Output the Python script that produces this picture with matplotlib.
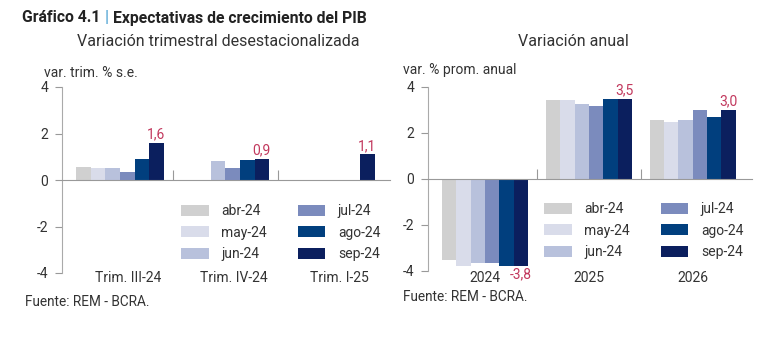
import matplotlib.pyplot as plt
import numpy as np

plt.rcParams["font.family"] = ["Roboto", "DejaVu Sans"]

# REM survey months (one bar per survey)
surveys = ["abr-24", "may-24", "jun-24", "jul-24", "ago-24", "sep-24"]
colors = ["#d0d0d0", "#d9dcea", "#b8c1dc", "#7b8bbd", "#013f7e", "#0b1f5e"]

# quarterly s.a. growth expectations, rows = survey month
quarters = ["Trim. III-24", "Trim. IV-24", "Trim. I-25"]
q_vals = np.array([
    [0.54, np.nan, np.nan],
    [0.51, np.nan, np.nan],
    [0.50, 0.80, np.nan],
    [0.35, 0.50, np.nan],
    [0.89, 0.85, np.nan],
    [1.6, 0.9, 1.1],
])

# annual average growth expectations
years = ["2024", "2025", "2026"]
y_vals = np.array([
    [-3.5, 3.42, 2.55],
    [-3.8, 3.42, 2.48],
    [-3.67, 3.27, 2.55],
    [-3.67, 3.18, 3.0],
    [-3.8, 3.5, 2.68],
    [-3.8, 3.5, 3.0],
])

W, H = 780, 342
fig = plt.figure(figsize=(W / 100, H / 100), dpi=100)


def px_box(x0, y_top, x1, y_bot):
    return [x0 / W, 1 - y_bot / H, (x1 - x0) / W, (y_bot - y_top) / H]


ax1 = fig.add_axes(px_box(62, 87, 390, 273))
ax2 = fig.add_axes(px_box(428, 87, 752, 271))

label_col = "#c2385d"
txt_col = "#333333"
bw = 0.138


def draw_panel(ax, vals, cats, lab_dx, lab_y, xmax):
    n = vals.shape[0]
    x = np.arange(len(cats))
    handles = []
    for i in range(n):
        off = (i - (n - 1) / 2) * bw
        h = ax.bar(x + off, vals[i], width=bw, color=colors[i], label=surveys[i],
                   zorder=2)
        handles.append(h)
    # value labels on the latest survey
    last = vals[-1]
    off = (n - 1) / 2 * bw
    for xi, v in zip(x, last):
        if np.isnan(v):
            continue
        s = f"{v:.1f}".replace(".", ",")
        if v >= 0:
            ax.annotate(s, (xi + off, v), xytext=(0, 1), textcoords="offset points",
                        ha="center", va="bottom", color=label_col, fontsize=10)
        else:
            ax.annotate(s, (xi + off, v), xytext=(0, -1), textcoords="offset points",
                        ha="center", va="top", color=label_col, fontsize=10)
    for xi, c in zip(x, cats):
        ax.text(xi + lab_dx, lab_y, c, ha="center", va="center", fontsize=10,
                color=txt_col)

    ax.set_xlim(-0.55, xmax)
    ax.set_ylim(-4, 4)
    ax.set_yticks([-4, -2, 0, 2, 4])
    ax.set_yticklabels(["-4", "-2", "0", "2", "4"])
    ax.tick_params(axis="y", length=5, width=0.8, color="#999999",
                   labelsize=10, labelcolor=txt_col, pad=5)
    # category separators sit on the zero line, pointing up
    ax.spines["bottom"].set_position(("data", 0))
    ax.spines["bottom"].set_color("#999999")
    ax.spines["bottom"].set_linewidth(0.8)
    ax.set_xticks([0.5, 1.5])
    ax.set_xticklabels([])
    ax.tick_params(axis="x", direction="in", length=7, width=0.8, color="#999999")
    ax.spines["left"].set_color("#aaaaaa")
    ax.spines["left"].set_linewidth(0.8)
    for s in ("top", "right"):
        ax.spines[s].set_visible(False)
    return handles


h1 = draw_panel(ax1, q_vals, quarters, 0.08, -4.21, 2.56)
h2 = draw_panel(ax2, y_vals, years, 0.0, -4.3, 2.57)

leg_kw = dict(ncol=2, frameon=False, fontsize=10, handlelength=2.0,
              handleheight=0.85, handletextpad=0.9, columnspacing=2.2,
              labelspacing=0.55, borderpad=0, borderaxespad=0,
              labelcolor=txt_col)
ax1.legend(h1, surveys, loc="upper left", bbox_to_anchor=(181 / W, 1 - 204 / H),
           bbox_transform=fig.transFigure, **leg_kw)
ax2.legend(h2, surveys, loc="upper left", bbox_to_anchor=(544 / W, 1 - 202 / H),
           bbox_transform=fig.transFigure, **leg_kw)

# headline: "Gráfico 4.1 | Expectativas ..." with a blue separator centred
# in the gap between the two dark parts
fig.canvas.draw()
r = fig.canvas.get_renderer()
head = dict(fontsize=11.3, fontweight="bold", va="center")
x0, yh = 22 / W, 1 - 18 / H
left_txt = fig.text(x0, yh, "Gráfico 4.1", color="#222222", **head)
left_x1 = left_txt.get_window_extent(r).x1
gap = 13  # px between "4.1" and "Expectativas"
fig.text((left_x1 + gap) / W, yh, "Expectativas de crecimiento del PIB",
         color="#222222", **head)
fig.text((left_x1 + gap / 2) / W, yh, "|", color="#5aa9d6", ha="center", **head)

fig.text(218 / W, 1 - 42 / H, "Variación trimestral desestacionalizada",
         fontsize=11.5, color=txt_col, ha="center", va="center")
fig.text(573 / W, 1 - 42 / H, "Variación anual", fontsize=11.5, color=txt_col,
         ha="center", va="center")
fig.text(44 / W, 1 - 73 / H, "var. trim. % s.e.", fontsize=10, color=txt_col,
         va="center")
fig.text(403 / W, 1 - 70 / H, "var. % prom. anual", fontsize=10, color=txt_col,
         va="center")
fig.text(25 / W, 1 - 302 / H, "Fuente: REM - BCRA.", fontsize=9.8, color=txt_col,
         va="center")
fig.text(403 / W, 1 - 297 / H, "Fuente: REM - BCRA.", fontsize=9.8, color=txt_col,
         va="center")

fig.savefig("out.png", dpi=100)
